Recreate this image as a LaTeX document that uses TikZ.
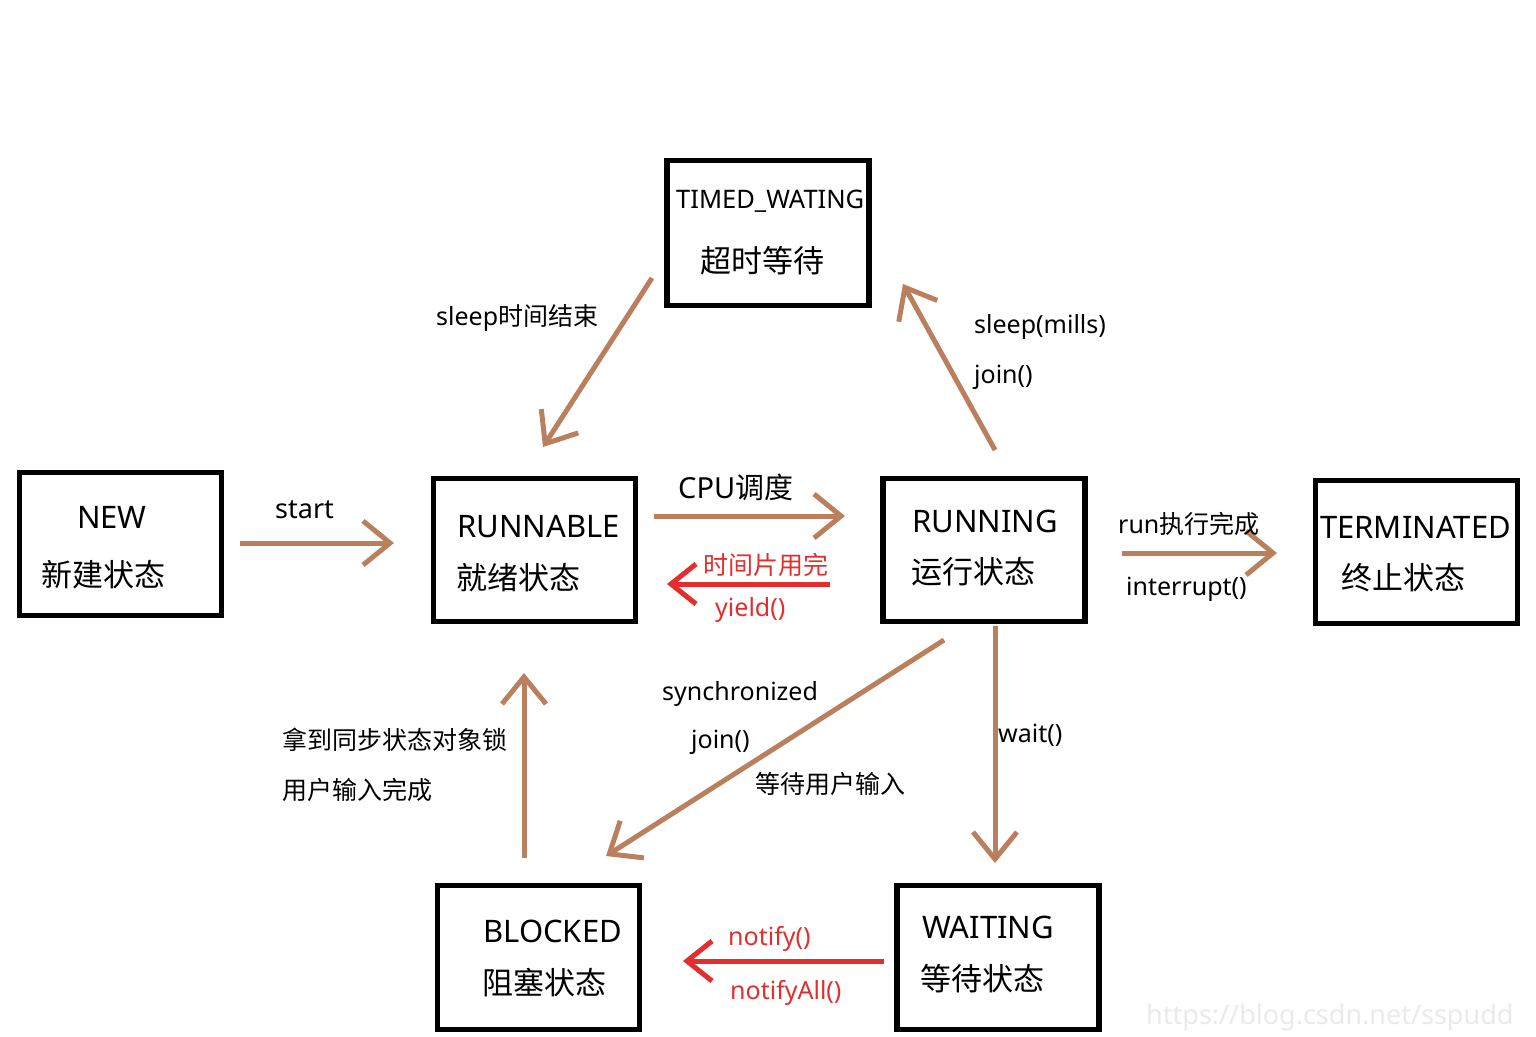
\documentclass[tikz,border=0pt]{standalone}
\usepackage{fontspec}
\setmainfont{Noto Sans}
\newfontfamily\cjk{Noto Sans CJK SC}
\usetikzlibrary{arrows.meta}
\definecolor{brn}{RGB}{186,128,94}
\definecolor{rd}{RGB}{226,46,46}
\definecolor{wm}{RGB}{234,234,234}
\begin{document}
\begin{tikzpicture}[x=1pt,y=-1pt,
  box/.style={draw=black,line width=5.5pt,inner sep=0pt,outer sep=0pt,minimum width=202pt,minimum height=143pt},
  big/.style={inner sep=0pt,anchor=west,font=\fontsize{31}{31}\selectfont},
  small/.style={inner sep=0pt,anchor=west,font=\fontsize{25}{25}\selectfont},
  barr/.style={draw=brn,line width=5pt,-{Straight Barb[length=27pt,width=44pt]}},
  rarr/.style={draw=rd,line width=5pt,-{Straight Barb[length=25pt,width=40pt]}},
]
\useasboundingbox (0,0) rectangle (1536,1036);
\fill[white] (0,0) rectangle (1536,1036);
% watermark
\node[inner sep=0pt,anchor=base west,text=wm,font=\fontsize{27}{27}\selectfont] (wmark) at (1146,1024) {https://blog.csdn.net/sspudd};
% boxes
\node[box] (new) at (120.5,544) {};
\node[box] (runnable) at (534.5,550) {};
\node[box] (running) at (984,550) {};
\node[box] (term) at (1416.5,552) {};
\node[box,minimum height=145pt] (timed) at (768,233) {};
\node[box,minimum height=144pt] (blocked) at (538.5,957.5) {};
\node[box,minimum height=144pt] (waiting) at (998,957.5) {};
% box texts
\node[big] (t1a) at (77,517) {NEW};
\node[big] (t1b) at (41,575) {\cjk 新建状态};
\node[big] (t2a) at (457,527) {RUNNABLE};
\node[big] (t2b) at (456,578) {\cjk 就绪状态};
\node[big] (t3a) at (912,521) {RUNNING};
\node[big] (t3b) at (911,572) {\cjk 运行状态};
\node[big] (t4a) at (1320,527) {TERMINATED};
\node[big] (t4b) at (1341,578) {\cjk 终止状态};
\node[inner sep=0pt,anchor=west,font=\fontsize{25.5}{25.5}\selectfont] (t5a) at (676,201) {TIMED\_WATING};
\node[big] (t5b) at (700,261) {\cjk 超时等待};
\node[big] (t6a) at (483,931) {BLOCKED};
\node[big] (t6b) at (482,983) {\cjk 阻塞状态};
\node[big] (t7a) at (922,927) {WAITING};
\node[big] (t7b) at (920,979) {\cjk 等待状态};
% connector end points
\coordinate (c1a) at (240,543);  \coordinate (c1b) at (394,543);
\coordinate (c2a) at (654,516);  \coordinate (c2b) at (845,516);
\coordinate (c3a) at (830,584);  \coordinate (c3b) at (667,584);
\coordinate (c4a) at (1122,553); \coordinate (c4b) at (1277,553);
\coordinate (c5a) at (995,450);  \coordinate (c5b) at (903,284);
\coordinate (c6a) at (652,278);  \coordinate (c6b) at (543,447);
\coordinate (c7a) at (995,626);  \coordinate (c7b) at (995,863);
\coordinate (c8a) at (944,640);  \coordinate (c8b) at (606,856);
\coordinate (c9a) at (524,858);  \coordinate (c9b) at (524,673);
\coordinate (c10a) at (884,961); \coordinate (c10b) at (683,961);
% connectors
\draw[barr] (c1a) -- (c1b);
\draw[barr] (c2a) -- (c2b);
\draw[rarr] (c3a) -- (c3b);
\draw[barr] (c4a) -- (c4b);
\draw[barr] (c5a) -- (c5b);
\draw[barr] (c6a) -- (c6b);
\draw[barr] (c7a) -- (c7b);
\draw[barr] (c8a) -- (c8b);
\draw[barr] (c9a) -- (c9b);
\draw[rarr] (c10a) -- (c10b);
% connector labels
\node[inner sep=0pt,anchor=west,font=\fontsize{27}{27}\selectfont] (l1) at (275,510) {start};
\node[inner sep=0pt,anchor=west,font=\fontsize{29}{29}\selectfont] (l2) at (678,487) {CPU{\cjk 调度}};
\node[small,text=rd] (l3a) at (703,565) {\cjk 时间片用完};
\node[small,text=rd] (l3b) at (715,610) {yield()};
\node[small] (l4a) at (1118,524) {run{\cjk 执行完成}};
\node[small] (l4b) at (1126,589) {interrupt()};
\node[small] (l5a) at (974,327) {sleep(mills)};
\node[small] (l5b) at (974,377) {join()};
\node[small] (l6) at (436,318) {sleep{\cjk 时间结束}};
\node[small] (l7) at (998,735) {wait()};
\node[small] (l8a) at (662,694) {synchronized};
\node[small] (l8b) at (691,742) {join()};
\node[small] (l8c) at (755,784) {\cjk 等待用户输入};
\node[small] (l9a) at (282,740) {\cjk 拿到同步状态对象锁};
\node[small] (l9b) at (282,790) {\cjk 用户输入完成};
\node[small,text=rd] (l10a) at (728,939) {notify()};
\node[small,text=rd] (l10b) at (730,993) {notifyAll()};
\end{tikzpicture}
\end{document}
